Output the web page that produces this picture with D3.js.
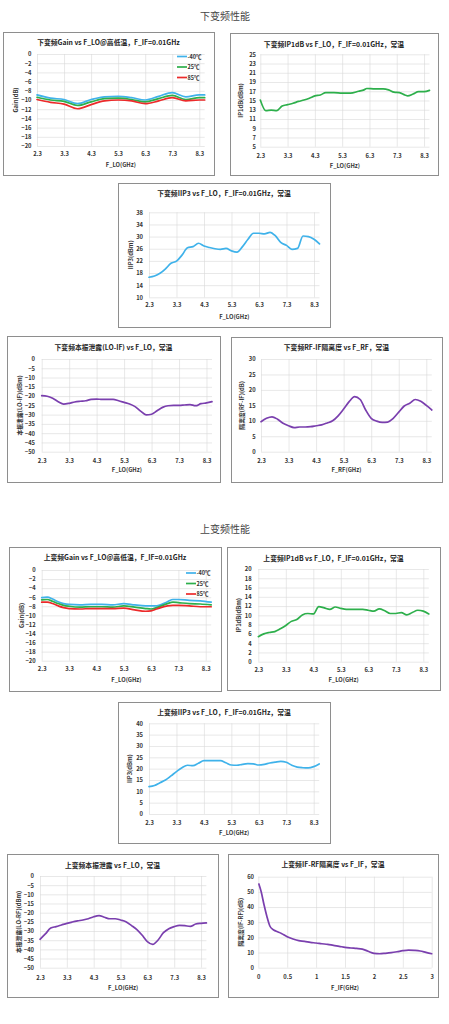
<!DOCTYPE html>
<html><head><meta charset="utf-8">
<script src="https://cdn.jsdelivr.net/npm/d3@7"></script>
<style>
body{margin:0;background:#fff}
svg{display:block}
text{font-family:"Noto Sans CJK SC","Noto Sans",sans-serif}
</style>
</head><body>
<svg id="c" width="449" height="1024"></svg>
<script>
// ---------------- DATA ----------------
const sectionTitles = ["下变频性能", "上变频性能"];
const legendLabels = ["-40℃", "25℃", "85℃"];

const loTicks = [2.3, 3.3, 4.3, 5.3, 6.3, 7.3, 8.3];
const ifTicks = [0, 0.5, 1, 1.5, 2, 2.5, 3];

// 下变频 Gain
const dnGainX   = [2.3, 2.8, 3.3, 3.8, 4.3, 4.8, 5.3, 5.8, 6.3, 6.8, 7.3, 7.8, 8.3, 8.5];
const dnGainM40 = [-8.9, -9.6, -9.9, -10.8, -9.9, -9.3, -9.2, -9.5, -10.0, -9.2, -8.4, -9.3, -8.9, -8.9];
const dnGain25  = [-9.4, -10.0, -10.3, -11.2, -10.4, -9.7, -9.6, -9.9, -10.4, -9.7, -9.0, -9.9, -9.5, -9.5];
const dnGain85  = [-9.9, -10.5, -10.9, -11.9, -11.0, -10.2, -10.0, -10.2, -10.8, -10.2, -9.5, -10.2, -10.0, -10.0];
const dnGainYTicks = [0, -2, -4, -6, -8, -10, -12, -14, -16, -18, -20];

// 下变频 IP1dB
const dnIP1X = [2.3, 2.5, 2.7, 2.9, 3.1, 3.3, 3.5, 3.7, 3.9, 4.1, 4.3, 4.5, 4.7, 5.0, 5.3, 5.6, 5.9, 6.1, 6.2, 6.5, 6.8, 7.0, 7.2, 7.4, 7.6, 7.7, 7.9, 8.1, 8.3, 8.5];
const dnIP1  = [15.1, 12.8, 12.9, 12.8, 13.8, 14.1, 14.4, 14.8, 15.1, 15.5, 16.0, 16.2, 16.7, 16.7, 16.6, 16.6, 17.0, 17.3, 17.6, 17.5, 17.5, 17.3, 16.8, 16.7, 16.2, 16.0, 16.4, 16.9, 16.9, 17.2];
const dnIP1YTicks = [5, 7, 9, 11, 13, 15, 17, 19, 21, 23, 25];

// common 0.2 GHz LO grid
const loGridX = [2.3, 2.5, 2.7, 2.9, 3.1, 3.3, 3.5, 3.7, 3.9, 4.1, 4.3, 4.5, 4.7, 4.9, 5.1, 5.3, 5.5, 5.7, 5.9, 6.1, 6.3, 6.5, 6.7, 6.9, 7.1, 7.3, 7.5, 7.7, 7.9, 8.1, 8.3, 8.5];

// 下变频 IIP3
const dnIIP3 = [16.6, 17.0, 17.9, 19.4, 21.2, 21.9, 23.9, 26.3, 26.7, 27.8, 26.9, 26.4, 26.0, 25.8, 26.1, 25.3, 24.9, 26.7, 29.1, 31.1, 31.1, 30.9, 31.4, 30.2, 28.0, 27.1, 25.8, 26.1, 30.2, 30.0, 29.1, 27.6];
const dnIIP3YTicks = [10, 14, 18, 22, 26, 30, 34, 38];

// 下变频 本振泄露(LO-IF)
const dnLOIF = [-19.8, -20.1, -21.2, -23.0, -24.3, -23.9, -23.2, -22.8, -22.5, -21.8, -21.6, -21.8, -21.8, -21.8, -22.5, -23.4, -24.3, -25.7, -28.1, -30.1, -29.8, -27.9, -26.1, -25.2, -25.0, -25.0, -24.8, -24.6, -25.2, -24.1, -23.7, -23.0];
const leakYTicks = [0, -5, -10, -15, -20, -25, -30, -35, -40, -45, -50];

// 下变频 RF-IF 隔离度
const dnRFIF = [9.7, 10.8, 11.3, 10.5, 9.2, 8.4, 7.8, 8.0, 8.0, 8.1, 8.4, 8.7, 9.3, 10.0, 11.6, 13.8, 16.2, 17.8, 16.9, 13.5, 10.8, 9.9, 9.5, 9.6, 10.8, 12.8, 14.8, 15.7, 16.9, 16.3, 15.0, 13.5];
const dnRFIFYTicks = [0, 5, 10, 15, 20, 25, 30];

// 上变频 Gain
const upGainX   = [2.3, 2.5, 2.7, 2.9, 3.1, 3.3, 3.7, 4.1, 4.5, 4.9, 5.3, 5.7, 6.1, 6.3, 6.5, 6.9, 7.1, 7.3, 7.7, 8.1, 8.5];
const upGainM40 = [-6.1, -6.0, -6.4, -7.0, -7.4, -7.6, -7.7, -7.6, -7.6, -7.7, -7.4, -7.7, -7.9, -7.9, -7.9, -7.0, -6.5, -6.5, -6.7, -6.8, -7.1];
const upGain25  = [-6.6, -6.5, -6.9, -7.4, -7.8, -8.0, -8.2, -8.1, -8.1, -8.2, -7.9, -8.2, -8.5, -8.6, -8.3, -7.4, -7.1, -7.2, -7.4, -7.5, -7.7];
const upGain85  = [-7.1, -7.1, -7.4, -7.9, -8.3, -8.5, -8.6, -8.5, -8.5, -8.5, -8.4, -8.8, -9.1, -9.0, -8.6, -7.9, -7.8, -7.8, -7.9, -8.1, -8.1];
const upGainYTicks = [0, -2, -4, -6, -8, -10, -12, -14, -16, -18, -20];

// 上变频 IP1dB
const upIP1 = [5.4, 6.0, 6.3, 6.5, 7.1, 7.8, 8.7, 9.1, 10.1, 10.4, 10.3, 11.9, 11.6, 11.3, 11.8, 11.5, 11.3, 11.3, 11.3, 11.3, 11.1, 10.9, 11.4, 11.0, 10.4, 10.4, 10.6, 10.1, 10.6, 11.1, 10.9, 10.3];
const upIP1YTicks = [0, 2, 4, 6, 8, 10, 12, 14, 16, 18, 20];

// 上变频 IIP3
const upIIP3 = [12.1, 12.6, 13.8, 15.0, 16.8, 18.7, 20.4, 21.5, 21.3, 22.4, 23.5, 23.5, 23.5, 23.5, 22.6, 21.6, 21.5, 21.9, 22.2, 22.1, 21.6, 21.9, 22.5, 22.9, 23.2, 22.8, 21.5, 20.7, 20.4, 20.3, 20.9, 22.1];
const upIIP3YTicks = [0, 5, 10, 15, 20, 25, 30, 35, 40];

// 上变频 本振泄露(LO-RF)
const upLORF = [-34.5, -31.6, -28.4, -27.6, -26.7, -25.8, -25.1, -24.5, -24.0, -23.3, -22.2, -21.6, -22.5, -23.3, -23.3, -24.0, -24.9, -26.9, -29.1, -32.2, -35.8, -37.3, -34.9, -30.9, -28.7, -27.6, -26.9, -27.1, -27.5, -26.2, -25.8, -25.6];

// 上变频 IF-RF 隔离度
const upIFRFX = [0.01, 0.05, 0.1, 0.15, 0.2, 0.25, 0.3, 0.4, 0.5, 0.6, 0.7, 0.8, 0.9, 1.0, 1.1, 1.2, 1.3, 1.4, 1.5, 1.6, 1.7, 1.8, 1.9, 2.0, 2.1, 2.2, 2.3, 2.4, 2.5, 2.6, 2.7, 2.8, 2.9, 3.0];
const upIFRF  = [55.2, 50.1, 41.3, 33.6, 27.5, 25.3, 24.2, 22.6, 20.4, 18.9, 17.8, 17.4, 16.7, 16.3, 15.8, 15.4, 14.7, 14.1, 13.4, 13.0, 12.7, 12.3, 10.8, 9.5, 9.2, 9.5, 9.9, 10.5, 11.2, 11.6, 11.4, 11.0, 10.1, 9.2];
const upIFRFYTicks = [0, 10, 20, 30, 40, 50, 60];

// ---------------- STYLE / LAYOUT ----------------
const C_BLUE = "#3fb2ea", C_GREEN = "#2daf4b", C_RED = "#ec2a2a", C_PURPLE = "#7a3fae";
const zip = (xs, ys) => xs.map((v, i) => [v, ys[i]]);

const svg = d3.select("#c");

svg.selectAll("text.sec").data([[sectionTitles[0], 15], [sectionTitles[1], 528]]).join("text")
  .attr("class", "sec").attr("x", 225).attr("y", d => d[1]).attr("text-anchor", "middle")
  .attr("dominant-baseline", "central").attr("font-size", 10).attr("fill", "#444").text(d => d[0]);

function panel(cfg) {
  const g = svg.append("g");
  const b = cfg.box;
  g.append("rect").attr("x", b[0] + 0.5).attr("y", b[1] + 0.5).attr("width", b[2]).attr("height", b[3])
    .attr("fill", "#fff").attr("stroke", "#8e8e8e").attr("stroke-width", 1);
  g.append("text").attr("x", b[0] + b[2] / 2).attr("y", cfg.titleY).attr("text-anchor", "middle")
    .attr("dominant-baseline", "central").attr("font-size", 6.8).attr("font-weight", "bold").attr("fill", "#222")
    .text(cfg.title);

  const x = d3.scaleLinear().domain(cfg.xDomain).range([cfg.px[0], cfg.px[1]]);
  const y = d3.scaleLinear().domain(cfg.yDomain).range([cfg.py[0], cfg.py[1]]);
  const pw = cfg.px[1] - cfg.px[0], ph = cfg.py[0] - cfg.py[1];
  const fs = 5.8;

  const ya = g.append("g").attr("transform", `translate(${cfg.px[0]},0)`)
    .call(d3.axisLeft(y).tickValues(cfg.yTicks).tickSize(-pw).tickPadding(cfg.px[0] - cfg.tickRight).tickFormat(d3.format("d")));
  const xa = g.append("g").attr("transform", `translate(0,${cfg.py[0]})`)
    .call(d3.axisBottom(x).tickValues(cfg.xTicks).tickSize(-ph).tickPadding(cfg.tickY - cfg.py[0] - fs * 0.36)
      .tickFormat(cfg.xFormat));
  [ya, xa].forEach(a => {
    a.select(".domain").remove();
    a.selectAll("line").attr("stroke", "#d9d9d9").attr("stroke-width", 0.6);
    a.selectAll("text").attr("font-size", fs).attr("font-weight", "bold").attr("fill", "#333")
      .attr("font-family", '"Noto Sans","Noto Sans CJK SC",sans-serif');
  });

  g.append("text").attr("x", (cfg.px[0] + cfg.px[1]) / 2).attr("y", cfg.xLabelY).attr("text-anchor", "middle")
    .attr("dominant-baseline", "central").attr("font-size", 5.8).attr("font-weight", "bold").attr("fill", "#333")
    .text(cfg.xLabel);
  g.append("text").attr("transform", `translate(${cfg.yLabelX},${(cfg.py[0] + cfg.py[1]) / 2}) rotate(-90)`)
    .attr("text-anchor", "middle").attr("dominant-baseline", "central").attr("font-size", 5.8)
    .attr("font-weight", "bold").attr("fill", "#333").text(cfg.yLabel);

  const line = d3.line().x(d => x(d[0])).y(d => y(d[1])).curve(d3.curveMonotoneX);
  g.selectAll("path.s").data(cfg.series).join("path").attr("class", "s")
    .attr("d", d => line(d.pts)).attr("fill", "none").attr("stroke", d => d.color)
    .attr("stroke-width", 1.7).attr("stroke-linejoin", "round").attr("stroke-linecap", "round");

  if (cfg.legend) {
    const lg = g.append("g");
    cfg.series.forEach((s, i) => {
      const ly = cfg.legend.y[i];
      lg.append("line").attr("x1", cfg.legend.x).attr("x2", cfg.legend.x + 10).attr("y1", ly).attr("y2", ly)
        .attr("stroke", s.color).attr("stroke-width", 1.7);
      lg.append("text").attr("x", cfg.legend.x + 10.5).attr("y", ly).attr("dominant-baseline", "central")
        .attr("font-size", 5.5).attr("font-weight", "bold").attr("fill", "#333").text(s.name);
    });
  }
}

const fmt1 = d3.format(".1f");
const fmtIF = d => String(d);

// 下变频 Gain
panel({ box: [3, 32, 211, 143], title: "下变频Gain vs F_LO@高低温，F_IF=0.01GHz", titleY: 42,
  xDomain: [2.3, 8.5], px: [37, 204.7], yDomain: [-20, 0], py: [146, 54], yTicks: dnGainYTicks, tickRight: 31.5,
  xTicks: loTicks, xFormat: fmt1, tickY: 154, xLabel: "F_LO(GHz)", xLabelY: 164, yLabel: "Gain(dB)", yLabelX: 15,
  series: [{ name: legendLabels[0], color: C_BLUE, pts: zip(dnGainX, dnGainM40) },
           { name: legendLabels[1], color: C_GREEN, pts: zip(dnGainX, dnGain25) },
           { name: legendLabels[2], color: C_RED, pts: zip(dnGainX, dnGain85) }],
  legend: { x: 177, y: [56.5, 67, 77.5] } });

// 下变频 IP1dB
panel({ box: [230, 33, 208, 142], title: "下变频IP1dB vs F_LO，F_IF=0.01GHz，常温", titleY: 44,
  xDomain: [2.3, 8.5], px: [260.3, 429.5], yDomain: [5, 25], py: [146.7, 54.3], yTicks: dnIP1YTicks, tickRight: 256,
  xTicks: loTicks, xFormat: fmt1, tickY: 155.7, xLabel: "F_LO(GHz)", xLabelY: 165.7, yLabel: "IP1dB(dBm)", yLabelX: 240,
  series: [{ color: C_GREEN, pts: zip(dnIP1X, dnIP1) }] });

// 下变频 IIP3
panel({ box: [118, 183, 212, 144], title: "下变频IIP3 vs F_LO，F_IF=0.01GHz，常温", titleY: 193,
  xDomain: [2.3, 8.5], px: [149, 319.5], yDomain: [10, 38], py: [297.3, 212.3], yTicks: dnIIP3YTicks, tickRight: 143,
  xTicks: loTicks, xFormat: fmt1, tickY: 305, xLabel: "F_LO(GHz)", xLabelY: 316, yLabel: "IIP3(dBm)", yLabelX: 130,
  series: [{ color: C_BLUE, pts: zip(loGridX, dnIIP3) }] });

// 下变频 本振泄露
panel({ box: [7, 336, 213, 146], title: "下变频本振泄露(LO-IF) vs F_LO，常温", titleY: 347,
  xDomain: [2.3, 8.5], px: [41.7, 212], yDomain: [-50, 0], py: [451.7, 359], yTicks: leakYTicks, tickRight: 35,
  xTicks: loTicks, xFormat: fmt1, tickY: 461, xLabel: "F_LO(GHz)", xLabelY: 469, yLabel: "本振泄露(LO-IF)(dBm)", yLabelX: 19,
  series: [{ color: C_PURPLE, pts: zip(loGridX, dnLOIF) }] });

// 下变频 RF-IF 隔离度
panel({ box: [231, 337, 211, 145], title: "下变频RF-IF隔离度 vs F_RF，常温", titleY: 347,
  xDomain: [2.3, 8.5], px: [261, 431.8], yDomain: [0, 30], py: [451.7, 359], yTicks: dnRFIFYTicks, tickRight: 255.7,
  xTicks: loTicks, xFormat: fmt1, tickY: 461, xLabel: "F_RF(GHz)", xLabelY: 469, yLabel: "隔离度(RF-IF)(dB)", yLabelX: 241.7,
  series: [{ color: C_PURPLE, pts: zip(loGridX, dnRFIF) }] });

// 上变频 Gain
panel({ box: [9, 547, 212, 144], title: "上变频Gain vs F_LO@高低温，F_IF=0.01GHz", titleY: 557,
  xDomain: [2.3, 8.5], px: [41.7, 211.2], yDomain: [-20, 0], py: [660.7, 570], yTicks: upGainYTicks, tickRight: 35.7,
  xTicks: loTicks, xFormat: fmt1, tickY: 669, xLabel: "F_LO(GHz)", xLabelY: 679, yLabel: "Gain(dB)", yLabelX: 21,
  series: [{ name: legendLabels[0], color: C_BLUE, pts: zip(upGainX, upGainM40) },
           { name: legendLabels[1], color: C_GREEN, pts: zip(upGainX, upGain25) },
           { name: legendLabels[2], color: C_RED, pts: zip(upGainX, upGain85) }],
  legend: { x: 186, y: [573, 583.5, 594] } });

// 上变频 IP1dB
panel({ box: [227, 547, 213, 143], title: "上变频IP1dB vs F_LO，F_IF=0.01GHz，常温", titleY: 558,
  xDomain: [2.3, 8.5], px: [258.3, 428.8], yDomain: [0, 20], py: [661.7, 569], yTicks: upIP1YTicks, tickRight: 251.7,
  xTicks: loTicks, xFormat: fmt1, tickY: 670, xLabel: "F_LO(GHz)", xLabelY: 679, yLabel: "IP1dB(dBm)", yLabelX: 238,
  series: [{ color: C_GREEN, pts: zip(loGridX, upIP1) }] });

// 上变频 IIP3
panel({ box: [118, 702, 212, 141], title: "上变频IIP3 vs F_LO，F_IF=0.01GHz，常温", titleY: 712,
  xDomain: [2.3, 8.5], px: [149, 319.2], yDomain: [0, 40], py: [814, 723.3], yTicks: upIIP3YTicks, tickRight: 143,
  xTicks: loTicks, xFormat: fmt1, tickY: 823, xLabel: "F_LO(GHz)", xLabelY: 832, yLabel: "IIP3(dBm)", yLabelX: 129,
  series: [{ color: C_BLUE, pts: zip(loGridX, upIIP3) }] });

// 上变频 本振泄露
panel({ box: [7, 854, 211, 143], title: "上变频本振泄露 vs F_LO，常温", titleY: 865,
  xDomain: [2.3, 8.5], px: [40, 206.4], yDomain: [-50, 0], py: [967.7, 876], yTicks: leakYTicks, tickRight: 34,
  xTicks: loTicks, xFormat: fmt1, tickY: 978, xLabel: "F_LO(GHz)", xLabelY: 987, yLabel: "本振泄露(LO-RF)(dBm)", yLabelX: 18,
  series: [{ color: C_PURPLE, pts: zip(loGridX, upLORF) }] });

// 上变频 IF-RF 隔离度
panel({ box: [228, 854, 210, 143], title: "上变频IF-RF隔离度 vs F_IF，常温", titleY: 864,
  xDomain: [0, 3], px: [258.3, 431.7], yDomain: [0, 60], py: [967.7, 876.7], yTicks: upIFRFYTicks, tickRight: 254,
  xTicks: ifTicks, xFormat: fmtIF, tickY: 977, xLabel: "F_IF(GHz)", xLabelY: 987, yLabel: "隔离度(IF-RF)(dB)", yLabelX: 240,
  series: [{ color: C_PURPLE, pts: zip(upIFRFX, upIFRF) }] });
</script>
</body></html>
